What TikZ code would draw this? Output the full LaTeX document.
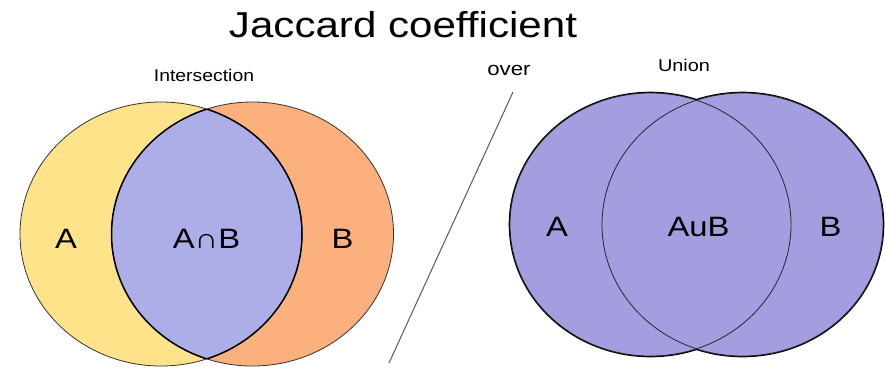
\documentclass[tikz,border=0pt]{standalone}
\usepackage{fontspec}
\setmainfont{Liberation Sans}
\definecolor{vyellow}{HTML}{FFE38A}
\definecolor{vorange}{HTML}{FBB07E}
\definecolor{vlens}{HTML}{ADADE8}
\definecolor{vpurple}{HTML}{A39EDF}
\begin{document}
\begin{tikzpicture}[x=1pt,y=-1pt,
  lbl/.style={inner sep=0pt,anchor=base,xscale=1.17},
  elA/.style={x radius=141,y radius=132},
  elR/.style={x radius=140.5,y radius=131.5},
  outerline/.style={draw=black!80,line width=0.8pt},
  lensline/.style={draw=black,line width=1.5pt},
  thinline/.style={draw=black!85,line width=0.8pt},
  thickline/.style={draw=black,line width=2.6pt}]
\useasboundingbox[fill=white] (0,0) rectangle (885,368);
% ---------- left Venn (intersection)
\coordinate (LA) at (161,234);
\coordinate (LB) at (252.5,234);
\fill[vyellow] (LA) ellipse [elA];
\fill[vorange] (LB) ellipse [elA];
\begin{scope}
  \clip (LA) ellipse [elA];
  \fill[vlens] (LB) ellipse [elA];
\end{scope}
\draw[outerline] (LA) ellipse [elA];
\draw[outerline] (LB) ellipse [elA];
\begin{scope}
  \clip (LA) ellipse [elA];
  \draw[lensline] (LB) ellipse [elA];
\end{scope}
\begin{scope}
  \clip (LB) ellipse [elA];
  \draw[lensline] (LA) ellipse [elA];
\end{scope}
% ---------- right Venn (union)
\coordinate (RA) at (650.5,224.5);
\coordinate (RB) at (742.5,224.5);
\draw[thickline] (RA) ellipse [elR];
\draw[thickline] (RB) ellipse [elR];
\fill[vpurple] (RA) ellipse [elR];
\fill[vpurple] (RB) ellipse [elR];
\draw[thinline] (RA) ellipse [elR];
\draw[thinline] (RB) ellipse [elR];
% ---------- slash
\coordinate (s1) at (513,92);
\coordinate (s2) at (389,363);
\draw[black!65,line width=1pt] (s1) -- (s2);
% ---------- texts
\node[lbl,font=\fontsize{36}{40}\selectfont] (title) at (403,37) {Jaccard coefficient};
\node[lbl,xscale=0.975,font=\fontsize{17}{20}\selectfont] (inter) at (204,81.5) {Intersection};
\node[lbl,font=\fontsize{19}{22}\selectfont] (over) at (509,75) {over};
\node[lbl,font=\fontsize{17}{20}\selectfont] (union) at (684,71.5) {Union};
\node[lbl,font=\fontsize{28}{32}\selectfont] (la) at (66,248) {A};
\node[lbl,font=\fontsize{28}{32}\selectfont] (lab) at (206.5,248) {A∩B};
\node[lbl,font=\fontsize{28}{32}\selectfont] (lb) at (342.5,248) {B};
\node[lbl,font=\fontsize{28}{32}\selectfont] (ra) at (557,236) {A};
\node[lbl,font=\fontsize{28}{32}\selectfont] (rab) at (698.5,236) {AuB};
\node[lbl,font=\fontsize{28}{32}\selectfont] (rb) at (830.5,236) {B};
\end{tikzpicture}
\end{document}
